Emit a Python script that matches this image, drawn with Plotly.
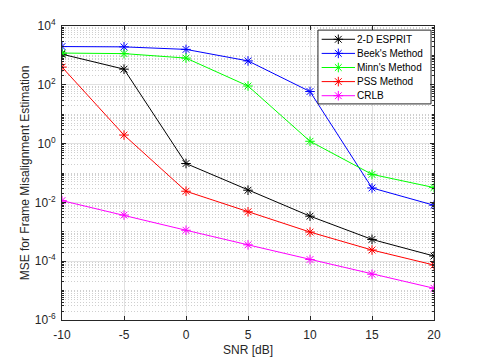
import plotly.graph_objects as go

snr_db = [-10, -5, 0, 5, 10, 15, 20]
snr_tick_text = ["-10", "-5", "0", "5", "10", "15", "20"]

esprit_2d = [1100, 340, 0.21, 0.026, 0.0034, 5.5e-4, 1.5e-4]
beek_method = [2000, 1950, 1600, 650, 59, 0.031, 0.008]
minn_method = [1200, 1150, 810, 91, 1.2, 0.09, 0.032]
pss_method = [400, 1.95, 0.024, 0.0048, 9.8e-4, 2.4e-4, 7.4e-5]
crlb = [0.0115, 0.0037, 0.00113, 3.6e-4, 1.14e-4, 3.6e-5, 1.2e-5]

series_names = ["2-D ESPRIT", "Beek's Method", "Minn's Method", "PSS Method", "CRLB"]
series_values = [esprit_2d, beek_method, minn_method, pss_method, crlb]
series_colors = ["#000000", "#0000ff", "#00ff00", "#ff0000", "#ff00ff"]

y_major = [1e-6, 1e-4, 1e-2, 1, 1e2, 1e4]
y_major_text = ["10<sup>-6</sup>", "10<sup>-4</sup>", "10<sup>-2</sup>",
                "10<sup>0</sup>", "10<sup>2</sup>", "10<sup>4</sup>"]
y_minor = [m * 10.0 ** e for e in range(-6, 4) for m in range(1, 10)
           if not (m == 1 and e % 2 == 0)]

TXT = "#262626"

fig = go.Figure()
for name, vals, color in zip(series_names, series_values, series_colors):
    fig.add_trace(go.Scatter(
        x=snr_db, y=vals, name=name, mode="lines+markers", showlegend=False,
        line=dict(color=color, width=1),
        marker=dict(symbol="asterisk-open", size=8, color=color,
                    line=dict(color=color, width=1)),
    ))

# legend drawn by hand on an overlay axis spanning the plot area (0..1)
box_x0, box_x1, box_y0, box_y1 = 0.688, 0.992, 0.735, 0.986
fig.add_trace(go.Scatter(
    x=[box_x0, box_x1, box_x1, box_x0, box_x0],
    y=[box_y0, box_y0, box_y1, box_y1, box_y0],
    xaxis="x2", yaxis="y2", mode="lines", fill="toself",
    fillcolor="white", line=dict(color=TXT, width=1),
    hoverinfo="skip", showlegend=False,
))
row_y = [0.9548, 0.9068, 0.8588, 0.8109, 0.7629]
for name, color, ry in zip(series_names, series_colors, row_y):
    fig.add_trace(go.Scatter(
        x=[0.698, 0.7876], y=[ry, ry], xaxis="x2", yaxis="y2",
        mode="lines", line=dict(color=color, width=1),
        hoverinfo="skip", showlegend=False,
    ))
    fig.add_trace(go.Scatter(
        x=[0.7428], y=[ry], xaxis="x2", yaxis="y2", mode="markers",
        marker=dict(symbol="asterisk-open", size=8, color=color,
                    line=dict(color=color, width=1)),
        hoverinfo="skip", showlegend=False,
    ))
    fig.add_annotation(
        x=0.7884, y=ry, xref="paper", yref="paper", text=name,
        showarrow=False, xanchor="left", yanchor="middle",
        font=dict(size=10, color="#000000"),
    )

axis_common = dict(
    showline=True, linecolor=TXT, linewidth=1, mirror="ticks",
    ticks="inside", ticklen=4, tickcolor=TXT,
    gridcolor="#e1e1e1", gridwidth=1, zeroline=False, automargin=False,
    tickfont=dict(size=12, color=TXT),
)

fig.update_xaxes(
    range=[-10, 20], tickmode="array", tickvals=snr_db, ticktext=snr_tick_text,
    ticklabelstandoff=4,
    title=dict(text="SNR [dB]", font=dict(size=12, color=TXT), standoff=4),
    **axis_common,
)
fig.update_yaxes(
    type="log", range=[-6, 4], tickmode="array",
    tickvals=y_major, ticktext=y_major_text, ticklabelstandoff=3,
    minor=dict(tickmode="array", tickvals=y_minor, ticks="inside", ticklen=2,
               tickcolor=TXT, showgrid=True, gridcolor="#cfcfcf",
               griddash="1px,2px", gridwidth=1),
    title=dict(text="MSE for Frame Misalignment Estimation",
               font=dict(size=12, color=TXT), standoff=2),
    **axis_common,
)

# the page body adds an 8px offset, so the figure is sized to what remains visible
fig.update_layout(
    width=472, height=352,
    margin=dict(l=54, r=46, t=18, b=40),
    paper_bgcolor="white", plot_bgcolor="white",
    font=dict(family="Liberation Sans, Arial, sans-serif", size=12, color=TXT),
    showlegend=False,
    xaxis2=dict(overlaying="x", range=[0, 1], visible=False, fixedrange=True),
    yaxis2=dict(overlaying="y", range=[0, 1], visible=False, fixedrange=True),
)

fig.write_html("out.html")
